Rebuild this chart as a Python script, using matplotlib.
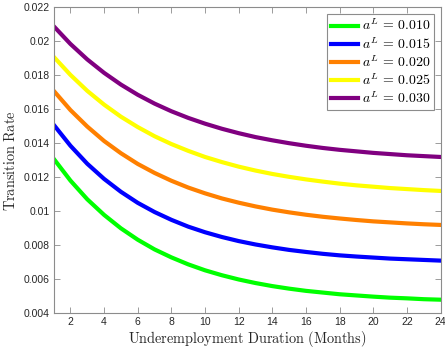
#!/usr/bin/env python3
# -*- coding: utf-8 -*-
"""Transition rate vs underemployment duration for several a^L values."""

import matplotlib
matplotlib.use("Agg")
import matplotlib.pyplot as plt

# Months and rate curves
MONTHS = list(range(1, 25))
A_L = ["0.010", "0.015", "0.020", "0.025", "0.030"]
RATE_010 = [0.01310, 0.01181, 0.01071, 0.00979, 0.00900, 0.00833, 0.00776,
            0.00729, 0.00688, 0.00653, 0.00624, 0.00599, 0.00578, 0.00560,
            0.00545, 0.00532, 0.00522, 0.00512, 0.00505, 0.00498, 0.00492,
            0.00488, 0.00483, 0.00480]
RATE_015 = [0.01510, 0.01386, 0.01280, 0.01191, 0.01115, 0.01050, 0.00996,
            0.00950, 0.00910, 0.00877, 0.00849, 0.00825, 0.00805, 0.00788,
            0.00773, 0.00761, 0.00750, 0.00741, 0.00734, 0.00728, 0.00722,
            0.00718, 0.00714, 0.00710]
RATE_020 = [0.01710, 0.01596, 0.01499, 0.01414, 0.01342, 0.01279, 0.01226,
            0.01180, 0.01140, 0.01106, 0.01076, 0.01051, 0.01029, 0.01010,
            0.00994, 0.00980, 0.00968, 0.00958, 0.00949, 0.00941, 0.00935,
            0.00929, 0.00924, 0.00920]
RATE_025 = [0.01910, 0.01803, 0.01709, 0.01628, 0.01557, 0.01496, 0.01442,
            0.01396, 0.01356, 0.01320, 0.01290, 0.01263, 0.01240, 0.01220,
            0.01203, 0.01188, 0.01175, 0.01163, 0.01153, 0.01145, 0.01137,
            0.01131, 0.01125, 0.01120]
RATE_030 = [0.02090, 0.01985, 0.01894, 0.01815, 0.01746, 0.01686, 0.01634,
            0.01589, 0.01550, 0.01516, 0.01486, 0.01460, 0.01437, 0.01418,
            0.01401, 0.01386, 0.01373, 0.01362, 0.01353, 0.01344, 0.01337,
            0.01330, 0.01325, 0.01320]
SERIES = [RATE_010, RATE_015, RATE_020, RATE_025, RATE_030]
COLORS = ["#00ff00", "#0000ff", "#ff8000", "#ffff00", "#800080"]

XTICKS = list(range(2, 25, 2))
YTICKS = [0.004, 0.006, 0.008, 0.01, 0.012, 0.014, 0.016, 0.018, 0.02, 0.022]
YTICK_LABELS = ["0.004", "0.006", "0.008", "0.01", "0.012", "0.014",
                "0.016", "0.018", "0.02", "0.022"]

AXIS_GRAY = "#8c8c8c"
TEXT_GRAY = "#262626"


def main():
    plt.rcParams["mathtext.fontset"] = "cm"
    plt.rcParams["font.family"] = ["Liberation Sans", "DejaVu Sans"]
    fig = plt.figure(figsize=(4.45, 3.54), dpi=100)
    ax = fig.add_axes([0.1205, 0.115, 0.8695, 0.864])

    for vals, col, a in zip(SERIES, COLORS, A_L):
        ax.plot(MONTHS, vals, color=col, lw=3, label=rf"$a^L\,=\,{a}$",
                solid_joinstyle="round")

    ax.set_xlim(1, 24)
    ax.set_ylim(0.004, 0.022)
    ax.set_xticks(XTICKS)
    ax.set_yticks(YTICKS)
    ax.set_yticklabels(YTICK_LABELS)
    ax.tick_params(direction="in", top=True, right=True, length=4,
                   width=0.6, color=AXIS_GRAY, labelsize=7.5,
                   labelcolor=TEXT_GRAY, pad=3)
    for sp in ax.spines.values():
        sp.set_color(AXIS_GRAY)
        sp.set_linewidth(0.8)

    ax.set_xlabel(r"$\mathrm{Underemployment\ Duration\ (Months)}$",
                  fontsize=10.3, color=TEXT_GRAY, labelpad=1)
    ax.set_ylabel(r"$\mathrm{Transition\ Rate}$", fontsize=10.3,
                  color=TEXT_GRAY, labelpad=4)

    leg = ax.legend(loc="upper right", fontsize=10, fancybox=False,
                    framealpha=1, edgecolor=AXIS_GRAY, handlelength=1.9,
                    handletextpad=0.3, labelspacing=0.18, borderpad=0.3,
                    borderaxespad=0.45)
    leg.get_frame().set_linewidth(0.8)

    fig.savefig("out.png", dpi=100)


if __name__ == "__main__":
    main()
